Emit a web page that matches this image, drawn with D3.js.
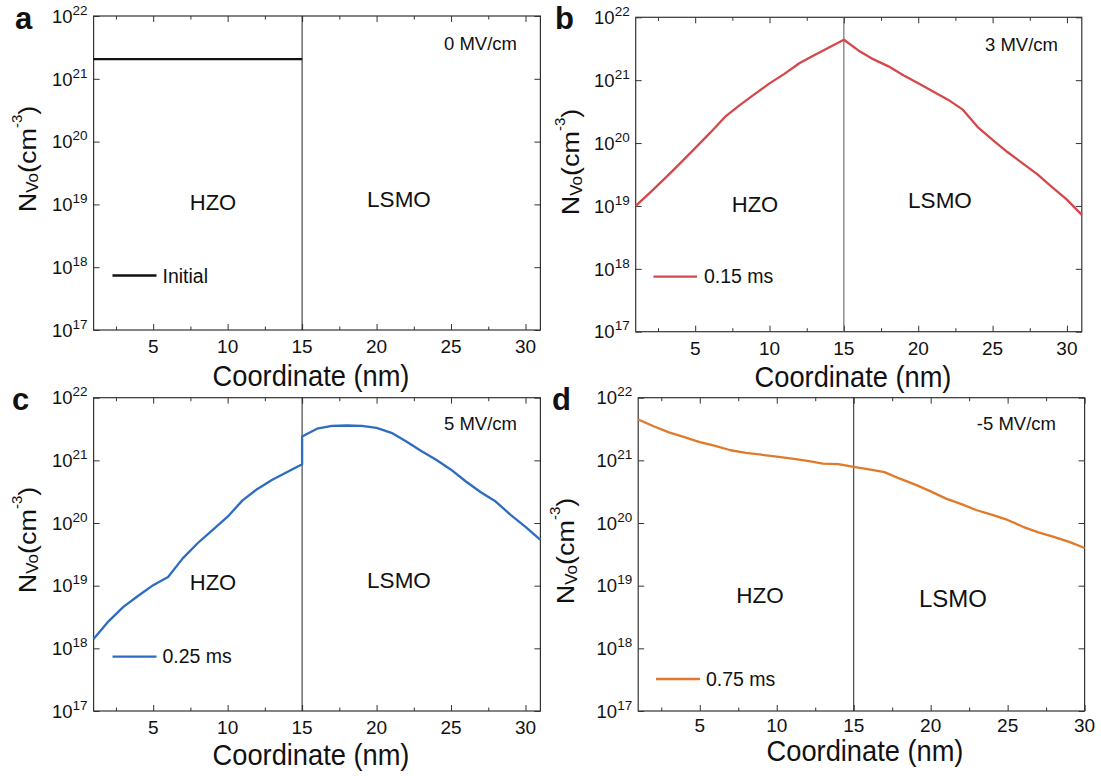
<!DOCTYPE html>
<html><head><meta charset="utf-8">
<script src="https://cdn.jsdelivr.net/npm/d3@7"></script>
<style>
body{margin:0;background:#fff}
svg{display:block}
text{font-family:"Liberation Sans", Arial, sans-serif; fill:#111}
</style>
</head><body>
<svg id="chart" width="1101" height="776"></svg>
<script>
// ---------- data ----------
const xTickValues = [5, 10, 15, 20, 25, 30];
const xMinorTicks = [2.5, 7.5, 12.5, 17.5, 22.5, 27.5];
const yTickExponents = [17, 18, 19, 20, 21, 22];
const interfaceX = 15;

const xA = [1, 15];
const yA = [2.05e21, 2.05e21];

const xB = [1,2,3,4,5,6,7,8,9,10,11,12,13,14,15,16,17,18,19,20,21,22,23,24,25,26,27,28,29,30,31];
const yB = [1.0e19,1.66e19,2.8e19,4.8e19,8.3e19,1.45e20,2.6e20,4.0e20,6.0e20,8.9e20,1.26e21,1.86e21,2.5e21,3.3e21,4.4e21,
            2.95e21,2.14e21,1.66e21,1.2e21,8.9e20,6.6e20,4.9e20,3.4e20,1.8e20,1.12e20,7.2e19,4.8e19,3.2e19,2.0e19,1.26e19,7.2e18];

const xC = [1,2,3,4,5,6,7,8,9,10,11,12,13,14,15,15,16,17,18,19,20,21,22,23,24,25,26,27,28,29,30,31];
const yC = [1.41e18,2.7e18,4.6e18,6.9e18,1.02e19,1.38e19,2.75e19,4.8e19,7.8e19,1.26e20,2.3e20,3.5e20,4.9e20,6.5e20,8.7e20,
            2.4e21,3.2e21,3.55e21,3.6e21,3.55e21,3.3e21,2.75e21,2.0e21,1.41e21,1.02e21,7.1e20,4.6e20,3.1e20,2.2e20,1.35e20,8.7e19,5.4e19];

const xD = [1,2,3,4,5,6,7,8,9,10,11,12,13,14,15,16,17,18,19,20,21,22,23,24,25,26,27,28,29,30];
const yD = [4.5e21,3.5e21,2.8e21,2.35e21,1.95e21,1.7e21,1.45e21,1.32e21,1.23e21,1.15e21,1.07e21,9.8e20,8.9e20,8.7e20,7.9e20,
            7.2e20,6.5e20,5.1e20,4.1e20,3.2e20,2.45e20,2.0e20,1.6e20,1.35e20,1.12e20,8.7e19,7.1e19,6.0e19,5.0e19,4.0e19];

const panelLetters = ["a", "b", "c", "d"];
const fieldLabels = ["0 MV/cm", "3 MV/cm", "5 MV/cm", "-5 MV/cm"];
const legendLabels = ["Initial", "0.15 ms", "0.25 ms", "0.75 ms"];
const layerLabels = ["HZO", "LSMO"];
const xDomains = [[1, 31], [1, 31], [1, 31], [1, 30]];
const yDomain = [1e17, 1e22];
const xTitle = "Coordinate (nm)";

// ---------- layout / styles ----------
const series = [[xA, yA], [xB, yB], [xC, yC], [xD, yD]];
const colors = ["#111111", "#d4474b", "#2d6cc0", "#e07a2a"];
const layout = [
  {l:93.6, r:540.4, t:16, b:330, tickY:353, letter:[15,28.5], ytitle:[35.5,159], xtitle:[311,386], field:[517,50],
   hzo:[213,210,22], lsmo:[399,207,22.5], leg:[112.5,156.5,275.5], legText:[162.5,282.7], vcol:"#222"},
  {l:635.7, r:1081.8, t:17.3, b:331.7, tickY:354.5, letter:[555,28.5], ytitle:[579,162], xtitle:[853,386.7], field:[1058,50.7],
   hzo:[755,211.7,22], lsmo:[940,208.3,22.5], leg:[653.5,697,276.7], legText:[704,283.3], vcol:"#555"},
  {l:93.6, r:540.4, t:397.7, b:711, tickY:734, letter:[12,410], ytitle:[35.5,540], xtitle:[311,765], field:[517,430],
   hzo:[213,590,22], lsmo:[399,587.7,22.5], leg:[112.5,156.5,656.7], legText:[162.5,663.3], vcol:"#222"},
  {l:638.2, r:1084.6, t:397.7, b:711, tickY:732, letter:[552,410], ytitle:[574,551], xtitle:[865,760.5], field:[1056,430],
   hzo:[760,603.3,22.5], lsmo:[953,606.7,24], leg:[656,700,679], legText:[706,685.7], vcol:"#222"}
];
const SX = 0.94; // horizontal squeeze of axis titles

const svg = d3.select("#chart");

function styleAxis(g) {
  g.select(".domain").remove();
  g.selectAll("line").attr("stroke", "#333").attr("stroke-width", 1);
}

layout.forEach((L, i) => {
  const g = svg.append("g");
  const x = d3.scaleLinear().domain(xDomains[i]).range([L.l, L.r]);
  const y = d3.scaleLog().domain(yDomain).range([L.b, L.t]);
  const yTickVals = yTickExponents.map(e => Math.pow(10, e));

  // ticks (inward) on all sides
  g.append("g").attr("transform", `translate(0,${L.b})`)
    .call(d3.axisBottom(x).tickValues(xTickValues).tickSizeInner(-6).tickSizeOuter(0).tickFormat("")).call(styleAxis);
  g.append("g").attr("transform", `translate(0,${L.b})`)
    .call(d3.axisBottom(x).tickValues(xMinorTicks).tickSizeInner(-3.5).tickSizeOuter(0).tickFormat("")).call(styleAxis);
  g.append("g").attr("transform", `translate(0,${L.t})`)
    .call(d3.axisTop(x).tickValues(xTickValues).tickSizeInner(-6).tickSizeOuter(0).tickFormat("")).call(styleAxis);
  g.append("g").attr("transform", `translate(0,${L.t})`)
    .call(d3.axisTop(x).tickValues(xMinorTicks).tickSizeInner(-3.5).tickSizeOuter(0).tickFormat("")).call(styleAxis);
  g.append("g").attr("transform", `translate(${L.l},0)`)
    .call(d3.axisLeft(y).tickValues(yTickVals).tickSizeInner(-6).tickSizeOuter(0).tickFormat("")).call(styleAxis);
  g.append("g").attr("transform", `translate(${L.r},0)`)
    .call(d3.axisRight(y).tickValues(yTickVals).tickSizeInner(-6).tickSizeOuter(0).tickFormat("")).call(styleAxis);

  // frame
  g.append("rect").attr("x", L.l).attr("y", L.t).attr("width", L.r - L.l).attr("height", L.b - L.t)
    .attr("fill", "none").attr("stroke", "#333").attr("stroke-width", 1.2);

  // interface line
  g.append("line").attr("x1", x(interfaceX)).attr("x2", x(interfaceX)).attr("y1", L.t).attr("y2", L.b)
    .attr("stroke", L.vcol).attr("stroke-width", 1);

  // x tick labels
  xTickValues.forEach(v => {
    g.append("text").attr("x", x(v)).attr("y", L.tickY)
      .attr("text-anchor", "middle").attr("font-size", 19).text(v);
  });
  // y tick labels
  yTickExponents.forEach(e => {
    const t = g.append("text").attr("x", L.l - 6).attr("y", y(Math.pow(10, e)) + 6.7)
      .attr("text-anchor", "end");
    t.append("tspan").attr("font-size", 18.5).text("10");
    t.append("tspan").attr("font-size", 13.5).attr("dy", -8).text(e);
  });

  // axis titles
  g.append("text").attr("transform", `translate(${L.xtitle[0]},${L.xtitle[1]}) scale(${SX},1)`)
    .attr("text-anchor", "middle").attr("font-size", 29).text(xTitle);
  const yt = g.append("text").attr("transform", `translate(${L.ytitle[0]},${L.ytitle[1]}) rotate(-90) scale(1,0.92)`)
    .attr("text-anchor", "middle");
  yt.append("tspan").attr("font-size", 27).text("N");
  yt.append("tspan").attr("font-size", 17).attr("dy", 3).text("Vo");
  yt.append("tspan").attr("font-size", 27).attr("dy", -3).text("(cm");
  yt.append("tspan").attr("font-size", 15).attr("dy", -15).text("-3");
  yt.append("tspan").attr("font-size", 27).attr("dy", 15).text(")");

  // panel letter
  g.append("text").attr("x", L.letter[0]).attr("y", L.letter[1]).attr("font-size", 31)
    .attr("font-weight", "bold").text(panelLetters[i]);

  // field label
  g.append("text").attr("x", L.field[0]).attr("y", L.field[1]).attr("text-anchor", "end")
    .attr("font-size", 18.5).text(fieldLabels[i]);

  // layer labels
  g.append("text").attr("x", L.hzo[0]).attr("y", L.hzo[1]).attr("text-anchor", "middle")
    .attr("font-size", L.hzo[2]).text(layerLabels[0]);
  g.append("text").attr("x", L.lsmo[0]).attr("y", L.lsmo[1]).attr("text-anchor", "middle")
    .attr("font-size", L.lsmo[2]).text(layerLabels[1]);

  // data line
  const [xs, ys] = series[i];
  const pts = xs.map((v, k) => [v, ys[k]]);
  g.append("path").datum(pts)
    .attr("d", d3.line().x(d => x(d[0])).y(d => y(d[1])))
    .attr("fill", "none").attr("stroke", colors[i]).attr("stroke-width", 2.3)
    .attr("stroke-linejoin", "round");

  // legend
  g.append("line").attr("x1", L.leg[0]).attr("x2", L.leg[1]).attr("y1", L.leg[2]).attr("y2", L.leg[2])
    .attr("stroke", colors[i]).attr("stroke-width", 2.3);
  g.append("text").attr("x", L.legText[0]).attr("y", L.legText[1]).attr("font-size", 19.5).text(legendLabels[i]);
});
</script>
</body></html>
